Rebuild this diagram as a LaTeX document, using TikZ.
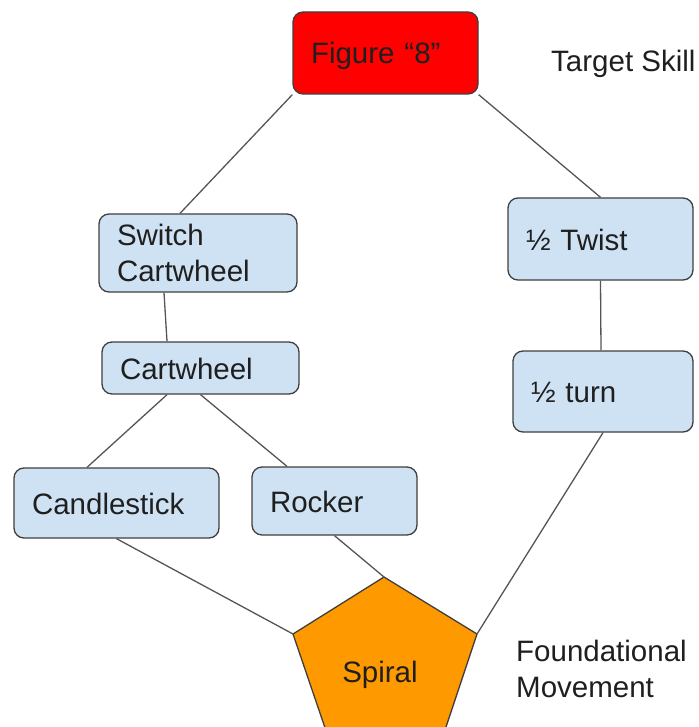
\documentclass[tikz,border=0pt]{standalone}
\usepackage{fontspec}
\setmainfont{Liberation Sans}
\usetikzlibrary{calc}
\definecolor{boxblue}{HTML}{CFE2F3}
\definecolor{figred}{HTML}{FF0000}
\definecolor{spiralorange}{HTML}{FF9900}
\definecolor{edgegray}{HTML}{3F3F3F}
\definecolor{linkgray}{HTML}{555555}
\begin{document}
\begin{tikzpicture}[x=1pt,y=-1pt,
  every node/.style={font=\fontsize{29.5}{36}\selectfont, text=black!88},
  skillbox/.style={draw=edgegray, line width=1.3pt, rounded corners=10pt, fill=boxblue,
    align=left, inner xsep=18pt, inner ysep=0pt},
  oneline/.style={text height=22pt, text depth=0pt},
  link/.style={draw=linkgray, line width=1.3pt},
  sidelabel/.style={anchor=base west, inner sep=0pt, align=left}]
\useasboundingbox (0,0) rectangle (698,727);
\clip (0,0) rectangle (698,727);

\node[skillbox, oneline, fill=figred, text width=149pt, minimum height=82pt] (fig) at (385.5,53) {Figure “8”};
\node[skillbox, text width=162pt, minimum height=78pt] (sw) at (198,253) {Switch\\Cartwheel};
\node[skillbox, oneline, text width=149pt, minimum height=82pt] (tw) at (600.5,239) {½ Twist};
\node[skillbox, oneline, text width=161pt, minimum height=52pt] (cw) at (200.5,368) {Cartwheel};
\node[skillbox, oneline, text width=144pt, minimum height=81pt] (tu) at (603,391.5) {½ turn};
\node[skillbox, oneline, text width=169pt, minimum height=70pt] (cs) at (116.5,503) {Candlestick};
\node[skillbox, oneline, text width=129pt, minimum height=68pt] (ro) at (334.5,501) {Rocker};

% Spiral pentagon
\coordinate (sptop) at (384,577);
\coordinate (spleft) at (293,634);
\coordinate (spright) at (477,634);
\coordinate (spbl) at (336,760);
\coordinate (spbr) at (435,760);
\filldraw[fill=spiralorange, draw=edgegray, line width=1.3pt]
  (sptop) -- (spright) -- (spbr) -- (spbl) -- (spleft) -- cycle;
\node[anchor=base, inner sep=0pt] (spiral) at (380,682) {Spiral};

% side labels
\node[sidelabel] (target) at (551,72) {Target Skill};
\node[sidelabel] (found) at (516,697) {Foundational\\Movement};

% connectors
\draw[link] (fig.south west) -- ([xshift=-18pt]sw.north);
\draw[link] (fig.south east) -- (tw.north);
\draw[link] ([xshift=-34pt]sw.south) -- ([xshift=-33.5pt]cw.north);
\draw[link] ([xshift=-33.5pt]cw.south) -- ([xshift=-29.5pt]cs.north);
\draw[link] (cw.south) -- ([xshift=-47.5pt]ro.north);
\draw[link] (tw.south) -- ([xshift=-2pt]tu.north);
\draw[link] (cs.south) -- (spleft);
\draw[link] (ro.south) -- (sptop);
\draw[link] (tu.south) -- (spright);
\end{tikzpicture}
\end{document}
